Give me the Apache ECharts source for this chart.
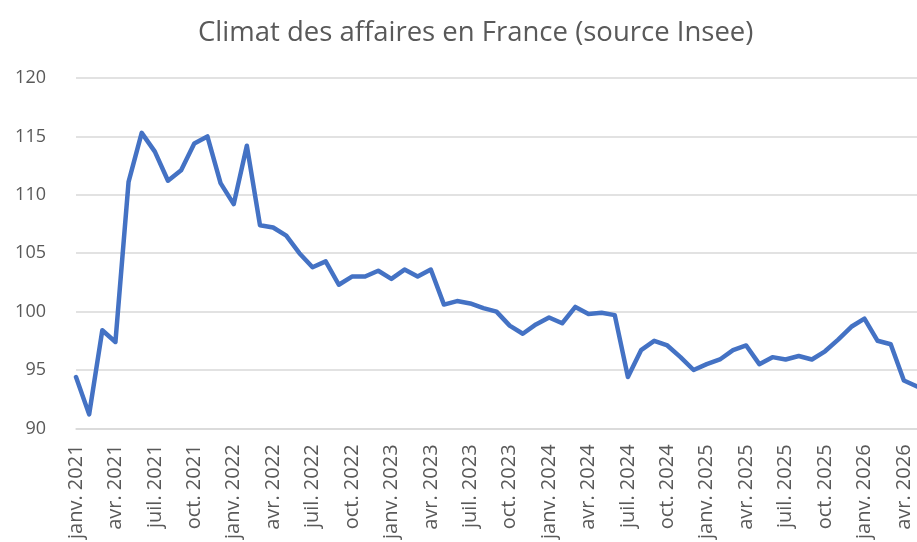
<!DOCTYPE html>
<html>
<head>
<meta charset="utf-8">
<script src="https://cdn.jsdelivr.net/npm/echarts@6/dist/echarts.min.js"></script>
<style>
html,body{margin:0;padding:0;background:#fff;}
#chart{width:917px;height:542px;}
</style>
</head>
<body>
<div id="chart"></div>
<script>
const monthNames = ['janv.', 'févr.', 'mars', 'avr.', 'mai', 'juin', 'juil.', 'août', 'sept.', 'oct.', 'nov.', 'déc.'];
const years = [2021, 2022, 2023, 2024, 2025, 2026];
const categories = [];
years.forEach(y => monthNames.forEach(m => categories.push(m + ' ' + y)));
categories.length = 65; // janv. 2021 -> mai 2026

const climat = [
  94.4, 91.2, 98.4, 97.4, 111.1, 115.3, 113.7, 111.2, 112.1, 114.4, 115.0, 111.0,
  109.2, 114.2, 107.4, 107.2, 106.5, 105.0, 103.8, 104.3, 102.3, 103.0, 103.0, 103.5,
  102.8, 103.6, 103.0, 103.6, 100.6, 100.9, 100.7, 100.3, 100.0, 98.8, 98.1, 98.9,
  99.5, 99.0, 100.4, 99.8, 99.9, 99.7, 94.4, 96.7, 97.5, 97.1, 96.1, 95.0,
  95.5, 95.9, 96.7, 97.1, 95.5, 96.1, 95.9, 96.2, 95.9, 96.6, 97.6, 98.7,
  99.4, 97.5, 97.2, 94.1, 93.6
];

const chart = echarts.init(document.getElementById('chart'));
chart.setOption({
  animation: false,
  title: {
    text: 'Climat des affaires en France (source Insee)',
    left: 193,
    top: 14,
    textStyle: {fontFamily: 'Open Sans', fontSize: 27.5, fontWeight: 'normal', color: '#595959'}
  },
  grid: {left: 76, right: 0, top: 78, bottom: 113.5, containLabel: false},
  xAxis: {
    type: 'category',
    data: categories,
    boundaryGap: false,
    axisLine: {show: true, lineStyle: {color: '#d9d9d9', width: 1.5}},
    axisTick: {show: false},
    axisLabel: {
      interval: 2,
      rotate: 90,
      margin: 16,
      fontFamily: 'Open Sans',
      fontSize: 20,
      color: '#595959'
    },
    splitLine: {show: false}
  },
  yAxis: {
    type: 'value',
    min: 90,
    max: 120,
    interval: 5,
    axisLine: {show: false},
    axisTick: {show: false},
    axisLabel: {fontFamily: 'Open Sans', fontSize: 18, color: '#595959', margin: 30},
    splitLine: {lineStyle: {color: '#d9d9d9', width: 1.5}}
  },
  series: [{
    type: 'line',
    data: climat,
    showSymbol: false,
    symbol: 'none',
    lineStyle: {color: '#4472C4', width: 4.5, join: 'round', cap: 'round'}
  }]
});
</script>
</body>
</html>
